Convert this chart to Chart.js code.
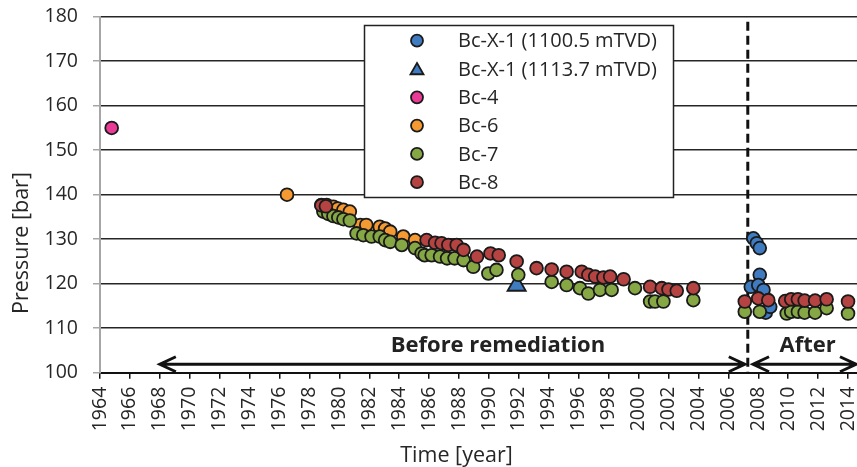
<!DOCTYPE html>
<html>
<head>
<meta charset="utf-8">
<script src="https://cdn.jsdelivr.net/npm/chart.js@4/dist/chart.umd.min.js"></script>
<style>
  html, body { margin: 0; padding: 0; background: #fff; }
  canvas { display: block; }
</style>
</head>
<body>
<canvas id="chart-pressure" width="857" height="467"></canvas>
<script>
// well data (year, pressure in bar)
const bcX1Year = [2007.67, 2007.9, 2008.1, 2008.1, 2007.5, 2008.0, 2008.35, 2008.5, 2008.8];
const bcX1Pressure = [130.2, 129.1, 128.0, 122.0, 119.3, 119.7, 118.6, 113.5, 114.8];

const bcX1DeepYear = [1991.85];
const bcX1DeepPressure = [119.6];

const bc4Year = [1964.78];
const bc4Pressure = [155.0];

const bc6Year = [1976.5, 1978.8, 1979.15, 1979.6, 1979.9, 1980.27, 1980.7, 1981.4, 1981.8, 1982.7, 1983.06, 1983.4, 1984.27, 1985.06];
const bc6Pressure = [140.0, 137.7, 137.7, 137.3, 136.9, 136.6, 136.2, 133.2, 133.2, 132.8, 132.4, 131.7, 130.6, 129.8];

const bc7Year = [1978.93, 1979.26, 1979.6, 1979.93, 1980.27, 1980.7, 1981.15, 1981.6, 1982.15, 1982.7,
  1983.06, 1983.4, 1984.17, 1985.06, 1985.5, 1985.7, 1986.17, 1986.73, 1987.2, 1987.7,
  1988.3, 1988.95, 1989.96, 1990.5, 1991.96, 1994.19, 1995.19, 1996.08, 1996.64, 1997.42,
  1998.2, 1999.76, 2000.77, 2001.1, 2001.66, 2003.66, 2007.1, 2008.1, 2009.9, 2010.2,
  2010.65, 2011.1, 2011.8, 2012.57, 2014.0];
const bc7Pressure = [136.2, 135.7, 135.2, 134.9, 134.5, 134.2, 131.3, 130.9, 130.6, 130.6,
  129.8, 129.4, 128.7, 128.0, 126.8, 126.4, 126.4, 126.1, 125.7, 125.7,
  125.3, 123.8, 122.3, 123.1, 122.0, 120.4, 119.7, 119.0, 117.8, 118.6,
  118.6, 119.0, 116.0, 116.0, 116.0, 116.3, 113.7, 113.7, 113.3, 113.7,
  113.7, 113.5, 113.5, 114.5, 113.3];

const bc8Year = [1978.8, 1979.1, 1985.83, 1986.4, 1986.83, 1987.28, 1987.84, 1988.3, 1989.2, 1990.1,
  1990.65, 1991.85, 1993.18, 1994.19, 1995.19, 1996.2, 1996.64, 1997.1, 1997.65, 1998.1,
  1999.0, 2000.77, 2001.55, 2002.0, 2002.55, 2003.66, 2007.1, 2008.0, 2008.67, 2009.8,
  2010.2, 2010.65, 2011.1, 2011.8, 2012.57, 2014.0];
const bc8Pressure = [137.6, 137.4, 129.8, 129.2, 129.1, 128.7, 128.7, 127.6, 126.1, 126.8,
  126.4, 125.0, 123.5, 123.2, 122.7, 122.7, 122.0, 121.6, 121.4, 121.6,
  121.0, 119.3, 119.0, 118.7, 118.4, 119.0, 116.0, 116.7, 116.3, 116.1,
  116.5, 116.5, 116.2, 116.2, 116.5, 116.0];

const remediationYear = 2007.3;

const toPoints = (xs, ys) => xs.map((x, i) => ({ x: x, y: ys[i] }));

Chart.defaults.font.family = '"Open Sans"';
Chart.defaults.color = '#262626';

function drawArrow(ctx, x1, x2, y) {
  ctx.beginPath();
  ctx.moveTo(x1, y);
  ctx.lineTo(x2, y);
  ctx.moveTo(x1 + 16, y - 7.5);
  ctx.lineTo(x1, y);
  ctx.lineTo(x1 + 16, y + 7.5);
  ctx.moveTo(x2 - 16, y - 7.5);
  ctx.lineTo(x2, y);
  ctx.lineTo(x2 - 16, y + 7.5);
  ctx.stroke();
}

const annotations = {
  id: 'annotations',
  beforeDatasetsDraw(chart) {
    const { ctx, chartArea, scales: { x, y } } = chart;
    ctx.save();
    ctx.strokeStyle = '#111';
    ctx.lineWidth = 3;
    ctx.setLineDash([9, 5]);
    const xr = x.getPixelForValue(remediationYear);
    ctx.beginPath();
    ctx.moveTo(xr, chartArea.top + 5);
    ctx.lineTo(xr, chartArea.bottom);
    ctx.stroke();
    ctx.setLineDash([]);

    const ay = y.getPixelForValue(101.9);
    drawArrow(ctx, x.getPixelForValue(1968), x.getPixelForValue(2007.1), ay);
    drawArrow(ctx, x.getPixelForValue(2007.65), chartArea.right - 1, ay);

    ctx.fillStyle = '#222';
    ctx.font = 'bold 22px "Open Sans"';
    ctx.textAlign = 'center';
    ctx.textBaseline = 'alphabetic';
    ctx.fillText('Before remediation', x.getPixelForValue(1990.6), y.getPixelForValue(104.6));
    ctx.fillText('After', x.getPixelForValue(2011.3), y.getPixelForValue(104.6));
    ctx.restore();
  },
  afterDraw(chart) {
    const { ctx } = chart;
    ctx.save();
    // axis titles
    ctx.fillStyle = '#262626';
    ctx.font = '21.5px "Open Sans"';
    ctx.textAlign = 'center';
    ctx.textBaseline = 'alphabetic';
    ctx.fillText('Time [year]', 456.5, 461.5);
    ctx.translate(28, 243);
    ctx.rotate(-Math.PI / 2);
    ctx.fillText('Pressure [bar]', 0, 0);
    ctx.restore();

    // legend box
    ctx.save();
    ctx.fillStyle = '#fff';
    ctx.strokeStyle = '#222';
    ctx.lineWidth = 1.5;
    ctx.fillRect(364.5, 25.5, 309, 172);
    ctx.strokeRect(364.5, 25.5, 309, 172);
    ctx.font = '20px "Open Sans"';
    ctx.textAlign = 'left';
    ctx.textBaseline = 'middle';
    chart.data.datasets.forEach((ds, i) => {
      const cy = 40.7 + i * 28.3;
      const isTriangle = ds.pointStyle === 'triangle';
      ctx.fillStyle = ds.backgroundColor;
      ctx.strokeStyle = ds.borderColor;
      ctx.lineWidth = 1.8;
      Chart.helpers.drawPoint(ctx, {
        pointStyle: ds.pointStyle,
        radius: isTriangle ? 7.5 : 6,
        rotation: 0,
        borderWidth: 1.8
      }, 417, isTriangle ? cy + 1.5 : cy);
      ctx.fillStyle = '#262626';
      ctx.fillText(ds.label, 458, cy + 1);
    });
    ctx.restore();
  }
};

const pressureChart = document.getElementById('chart-pressure');

new Chart(pressureChart, {
  type: 'scatter',
  data: {
    datasets: [{
      label: 'Bc-X-1 (1100.5 mTVD)',
      data: toPoints(bcX1Year, bcX1Pressure),
      backgroundColor: '#3f7bc0',
      order: 6
    }, {
      label: 'Bc-X-1 (1113.7 mTVD)',
      data: toPoints(bcX1DeepYear, bcX1DeepPressure),
      backgroundColor: '#3f7bc0',
      pointStyle: 'triangle',
      pointRadius: 10.5,
      order: 5
    }, {
      label: 'Bc-4',
      data: toPoints(bc4Year, bc4Pressure),
      backgroundColor: '#ea3c96',
      order: 4
    }, {
      label: 'Bc-6',
      data: toPoints(bc6Year, bc6Pressure),
      backgroundColor: '#f59a32',
      order: 3
    }, {
      label: 'Bc-7',
      data: toPoints(bc7Year, bc7Pressure),
      backgroundColor: '#86a844',
      order: 2
    }, {
      label: 'Bc-8',
      data: toPoints(bc8Year, bc8Pressure),
      backgroundColor: '#b54342',
      order: 1
    }].map(ds => Object.assign({
      borderColor: '#1a1a1a',
      borderWidth: 1.8,
      pointRadius: 6.4,
      pointStyle: 'circle'
    }, ds))
  },
  options: {
    responsive: false,
    animation: false,
    layout: { autoPadding: false, padding: { top: 16.7, right: 0, bottom: 0, left: 0 } },
    plugins: {
      legend: { display: false },
      tooltip: { enabled: false }
    },
    scales: {
      x: {
        type: 'linear',
        min: 1964,
        max: 2014.6,
        grid: { drawOnChartArea: false, tickLength: 6, tickColor: '#111', lineWidth: 1.5 },
        border: { color: '#111', width: 2 },
        ticks: {
          stepSize: 2,
          includeBounds: false,
          autoSkip: false,
          minRotation: 90,
          maxRotation: 90,
          padding: 8,
          font: { size: 19.5 },
          callback: v => String(v)
        },
        afterFit(scale) {
          scale.height = 94.3;
          scale.paddingLeft = 0;
          scale.paddingRight = 0;
        }
      },
      y: {
        min: 100,
        max: 180,
        grid: { color: '#262626', lineWidth: 1.5, tickLength: 7, tickColor: '#a6a6a6' },
        border: { color: '#a6a6a6', width: 2 },
        ticks: {
          stepSize: 10,
          padding: 15,
          font: { size: 19.5 },
          callback: v => String(v)
        },
        afterFit(scale) {
          scale.width = 100;
          scale.paddingTop = 0;
          scale.paddingBottom = 0;
        }
      }
    }
  },
  plugins: [annotations]
});
</script>
</body>
</html>
